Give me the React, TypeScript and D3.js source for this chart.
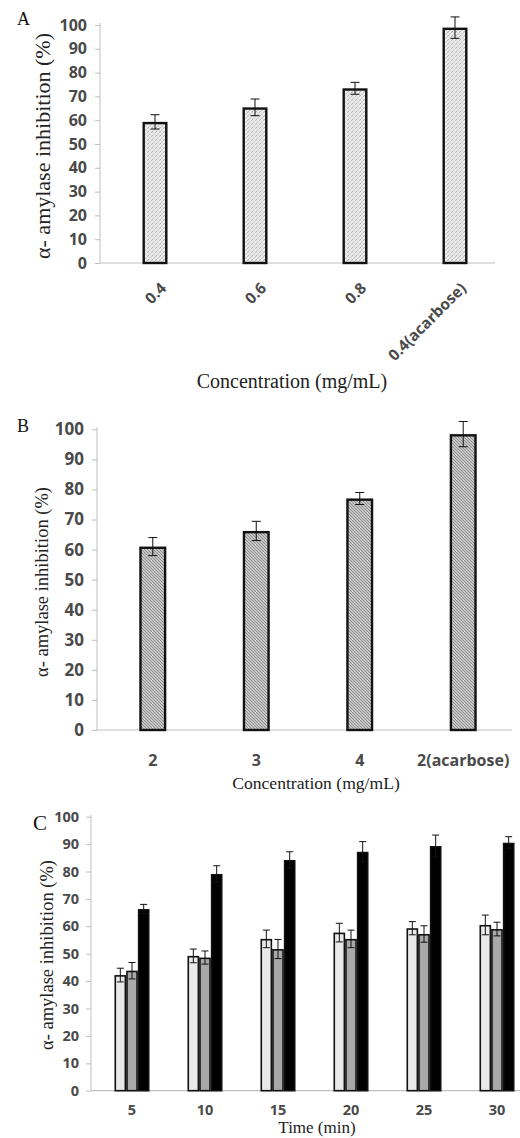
import * as d3 from "d3";
import { useEffect, useRef } from "react";

// Panel A
const catsA = ["0.4", "0.6", "0.8", "0.4(acarbose)"];
const valsA = [59.3, 65.4, 73.4, 98.9];
const errA = [3.0, 3.5, 2.5, 4.5];

// Panel B
const catsB = ["2", "3", "4", "2(acarbose)"];
const valsB = [61.0, 66.2, 77.0, 98.4];
const errB = [3.0, 3.2, 2.0, 4.2];

// Panel C
const timesC = ["5", "10", "15", "20", "25", "30"];
const seriesC = ["s1", "s2", "s3"];
const valsC1 = [42.2, 49.2, 55.4, 57.7, 59.3, 60.5];
const errC1 = [2.5, 2.5, 3.2, 3.4, 2.4, 3.6];
const valsC2 = [43.8, 48.6, 51.7, 55.4, 57.2, 59.0];
const errC2 = [3.0, 2.4, 3.5, 3.2, 3.0, 2.5];
const valsC3 = [66.3, 79.1, 84.2, 87.2, 89.3, 90.5];
const errC3 = [1.7, 3.0, 3.0, 3.7, 4.0, 2.2];

const yTicks = d3.range(0, 101, 10);
const yTitle = "α- amylase inhibition (%)";

const SANS = "'Open Sans', sans-serif";
const SERIF = "'Liberation Serif', 'Times New Roman', serif";
const TICK = "#4a4a4a";

export default function App() {
  const svgRef = useRef<SVGSVGElement>(null);

  useEffect(() => {
    if (!svgRef.current) return;
    const svg = d3.select(svgRef.current);
    svg.selectAll("*").remove();

    const defs = svg.append("defs");
    // light dotted crosshatch (panel A)
    const pA = defs.append("pattern").attr("id", "patA").attr("patternUnits", "userSpaceOnUse")
      .attr("width", 4).attr("height", 4);
    pA.append("rect").attr("width", 4).attr("height", 4).attr("fill", "#f0f0f0");
    pA.append("path").attr("d", "M-1,1 L1,-1 M0,4 L4,0 M3,5 L5,3").attr("stroke", "#a8a8a8").attr("stroke-width", 0.9)
      .attr("stroke-dasharray", "1.4,0.6");
    pA.append("path").attr("d", "M0,0 L4,4").attr("stroke", "#cfcfcf").attr("stroke-width", 0.7);

    // dense diagonal hatch (panel B)
    const pB = defs.append("pattern").attr("id", "patB").attr("patternUnits", "userSpaceOnUse")
      .attr("width", 3).attr("height", 3);
    pB.append("rect").attr("width", 3).attr("height", 3).attr("fill", "#c4c4c4");
    pB.append("path").attr("d", "M0,0 L3,3 M-1,2 L1,4 M2,-1 L4,1").attr("stroke", "#8c8c8c").attr("stroke-width", 0.9);

    const yAxis = (g: any, y: any, x0: number, x1: number, fs: number, pad: number) => {
      const ax = g.append("g").attr("transform", `translate(${x0},0)`)
        .call(d3.axisLeft(y).tickValues(yTicks).tickSize(5).tickPadding(pad));
      ax.select(".domain").attr("stroke", "#bfbfbf").attr("d", `M0,${y(0)}V${y(100) - 2}`);
      ax.selectAll(".tick line").attr("stroke", "#bfbfbf");
      ax.selectAll(".tick text").attr("font-family", SANS).attr("font-size", fs)
        .attr("font-weight", "bold").attr("fill", TICK);
      g.append("line").attr("x1", x0).attr("x2", x1).attr("y1", y(0)).attr("y2", y(0))
        .attr("stroke", "#bfbfbf").attr("stroke-width", 1.2);
    };

    const errBar = (g: any, cx: number, y: any, v: number, e: number, cap: number) => {
      const p = d3.path();
      p.moveTo(cx, y(v + e)); p.lineTo(cx, y(v - e));
      p.moveTo(cx - cap / 2, y(v + e)); p.lineTo(cx + cap / 2, y(v + e));
      p.moveTo(cx - cap / 2, y(v - e)); p.lineTo(cx + cap / 2, y(v - e));
      g.append("path").attr("d", p.toString()).attr("stroke", "#111").attr("stroke-width", 1).attr("fill", "none");
    };

    const label = (t: string, x: number, y: number, fs: number) =>
      svg.append("text").attr("x", x).attr("y", y).attr("font-family", SERIF).attr("font-size", fs).attr("fill", "#111").text(t);

    const rotTitle = (x: number, y: number, fs: number) =>
      svg.append("text").attr("transform", `translate(${x},${y}) rotate(-90)`).attr("text-anchor", "middle")
        .attr("font-family", SERIF).attr("font-size", fs).attr("fill", "#222").text(yTitle);

    const hTitle = (t: string, x: number, y: number, fs: number) =>
      svg.append("text").attr("x", x).attr("y", y).attr("text-anchor", "middle")
        .attr("font-family", SERIF).attr("font-size", fs).attr("fill", "#222").text(t);

    // ---- Panel A ----
    {
      const g = svg.append("g");
      const x = d3.scaleBand().domain(catsA).range([105, 505]).paddingInner(0.75).paddingOuter(0.375);
      const y = d3.scaleLinear().domain([0, 100]).range([263, 25]);
      yAxis(g, y, 100, 495, 16, 8);
      catsA.forEach((c, i) => {
        const bx = x(c)!;
        g.append("rect").attr("x", bx + 1.2).attr("y", y(valsA[i]) + 1.2)
          .attr("width", x.bandwidth() - 2.4).attr("height", y(0) - y(valsA[i]) - 1.2)
          .attr("fill", "url(#patA)").attr("stroke", "#111").attr("stroke-width", 2.4);
        errBar(g, bx + x.bandwidth() / 2, y, valsA[i], errA[i], 9);
        g.append("text").attr("transform", `translate(${bx + x.bandwidth() / 2 + 4},${281}) rotate(-45)`)
          .attr("text-anchor", "end").attr("dy", "0.75em").attr("font-family", SANS).attr("font-size", 15.5)
          .attr("font-weight", "bold").attr("fill", TICK).text(c);
      });
      label("A", 17, 25, 18);
      rotTitle(50, 146, 22);
      hTitle("Concentration (mg/mL)", 292, 388, 20);
    }

    // ---- Panel B ----
    {
      const g = svg.append("g");
      const x = d3.scaleBand().domain(catsB).range([101, 515]).paddingInner(0.739).paddingOuter(0.37);
      const y = d3.scaleLinear().domain([0, 100]).range([730, 429.3]);
      yAxis(g, y, 97, 512, 17, 8);
      catsB.forEach((c, i) => {
        const bx = x(c)!;
        g.append("rect").attr("x", bx + 1.2).attr("y", y(valsB[i]) + 1.2)
          .attr("width", x.bandwidth() - 2.4).attr("height", y(0) - y(valsB[i]) - 1.2)
          .attr("fill", "url(#patB)").attr("stroke", "#111").attr("stroke-width", 2.4);
        errBar(g, bx + x.bandwidth() / 2, y, valsB[i], errB[i], 9);
        g.append("text").attr("x", bx + x.bandwidth() / 2).attr("y", 766).attr("text-anchor", "middle")
          .attr("font-family", SANS).attr("font-size", 16).attr("font-weight", "bold").attr("fill", TICK).text(c);
      });
      label("B", 17, 432, 18);
      rotTitle(48, 582, 18.5);
      hTitle("Concentration (mg/mL)", 316, 789, 17.6);
    }

    // ---- Panel C ----
    {
      const g = svg.append("g");
      const x0 = d3.scaleBand().domain(timesC).range([95.5, 533.5]).paddingInner(0.52).paddingOuter(0.26);
      const x1 = d3.scaleBand().domain(seriesC).range([0, x0.bandwidth()]);
      const y = d3.scaleLinear().domain([0, 100]).range([1090.7, 816.7]);
      yAxis(g, y, 91, 520, 14.5, 7);
      const vals = [valsC1, valsC2, valsC3];
      const errs = [errC1, errC2, errC3];
      const fills = ["#e9e9e9", "#a9a9a9", "#000"];
      timesC.forEach((t, i) => {
        const gx = x0(t)!;
        seriesC.forEach((s, k) => {
          const bx = gx + x1(s)!;
          const v = vals[k][i];
          g.append("rect").attr("x", bx + 0.8).attr("y", y(v) + 0.8)
            .attr("width", x1.bandwidth() - 1.6).attr("height", y(0) - y(v) - 0.8)
            .attr("fill", fills[k]).attr("stroke", "#111").attr("stroke-width", 1.6);
          errBar(g, bx + x1.bandwidth() / 2, y, v, errs[k][i], 7);
        });
        g.append("text").attr("x", gx + x0.bandwidth() / 2).attr("y", 1115).attr("text-anchor", "middle")
          .attr("font-family", SANS).attr("font-size", 14.5).attr("font-weight", "bold").attr("fill", TICK).text(t);
      });
      label("C", 33, 830, 21);
      rotTitle(53, 955, 18.5);
      hTitle("Time (min)", 317, 1133, 17);
    }
  }, []);

  return (
    <svg ref={svgRef} width={520} height={1138}
      style={{ position: "absolute", left: 0, top: 0, background: "#fff" }} />
  );
}
